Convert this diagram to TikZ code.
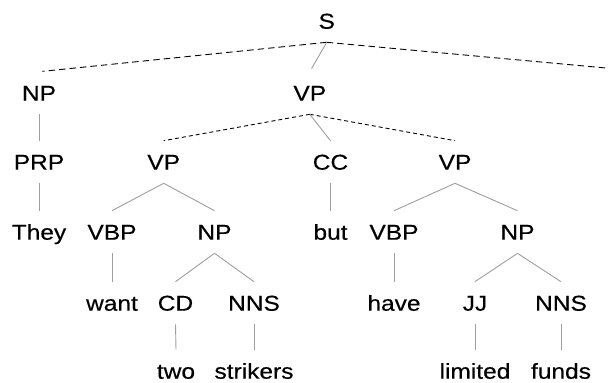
\documentclass[tikz,border=0pt]{standalone}
\usepackage{fontspec}
\setmainfont[FakeStretch=1.14, FakeBold=0.4]{Liberation Sans}
\begin{document}
\begin{tikzpicture}[x=1pt,y=-1pt,
  lbl/.style={font=\fontsize{21.5}{24}\selectfont, text height=17pt, text depth=1.6pt,
              inner xsep=0pt, inner ysep=12pt, outer sep=0pt},
  branch/.style={draw=black!38, line width=0.9pt},
  dashtop/.style={draw=black, line width=0.9pt, dash pattern=on 6.5pt off 4pt},
  dashmid/.style={draw=black, line width=0.9pt, dash pattern=on 4pt off 3pt}]
\useasboundingbox (0,0) rectangle (611,383);

% level 0
\node[lbl] (S) at (326.7,21) {S};
% level 1
\node[lbl] (np1) at (39,93) {NP};
\node[lbl] (vp1) at (309.8,93) {VP};
\coordinate (rest) at (606,68);
% level 2
\node[lbl] (prp) at (39,162) {PRP};
\node[lbl] (vp2) at (163.7,162) {VP};
\node[lbl] (cc)  at (330.5,162) {CC};
\node[lbl] (vp3) at (455,162) {VP};
% level 3
\node[lbl] (they) at (39,232) {They};
\node[lbl] (vbp1) at (112,232) {VBP};
\node[lbl] (np2)  at (214.5,232) {NP};
\node[lbl] (but)  at (330.5,232) {but};
\node[lbl] (vbp2) at (394,232) {VBP};
\node[lbl] (np3)  at (517.5,232) {NP};
% level 4
\node[lbl] (want) at (112,303) {want};
\node[lbl] (cd)   at (175.5,303) {CD};
\node[lbl] (nns1) at (254,303) {NNS};
\node[lbl] (have) at (394,303) {have};
\node[lbl] (jj)   at (475,303) {JJ};
\node[lbl] (nns2) at (561,303) {NNS};
% level 5
\node[lbl] (two)      at (176,371) {two};
\node[lbl] (strikers) at (254,371) {strikers};
\node[lbl] (limited)  at (475,371) {limited};
\node[lbl] (funds)    at (561,371) {funds};

% dashed edges
\draw[dashtop, shorten >=3.5pt] (S.south) -- (np1.north);
\draw[dashtop] (S.south) -- (rest);
\draw[dashmid] (vp1.south) -- (vp2.north);
\draw[dashmid] (vp1.south) -- (vp3.north);

% solid edges
\draw[branch, shorten >=3.5pt] (S.south) -- (vp1.north);
\draw[branch] (np1.south) -- (prp.north);
\draw[branch] (vp1.south) -- (cc.north);
\draw[branch] (prp.south) -- (they.north);
\draw[branch] (vp2.south) -- (vbp1.north);
\draw[branch] (vp2.south) -- (np2.north);
\draw[branch] (cc.south) -- (but.north);
\draw[branch] (vp3.south) -- (vbp2.north);
\draw[branch] (vp3.south) -- (np3.north);
\draw[branch] (vbp1.south) -- (want.north);
\draw[branch] (np2.south) -- (cd.north);
\draw[branch] (np2.south) -- (nns1.north);
\draw[branch] (vbp2.south) -- (have.north);
\draw[branch] (np3.south) -- (jj.north);
\draw[branch] (np3.south) -- (nns2.north);
\draw[branch] (cd.south) -- (two.north);
\draw[branch] (nns1.south) -- (strikers.north);
\draw[branch] (jj.south) -- (limited.north);
\draw[branch] (nns2.south) -- (funds.north);
\end{tikzpicture}
\end{document}
